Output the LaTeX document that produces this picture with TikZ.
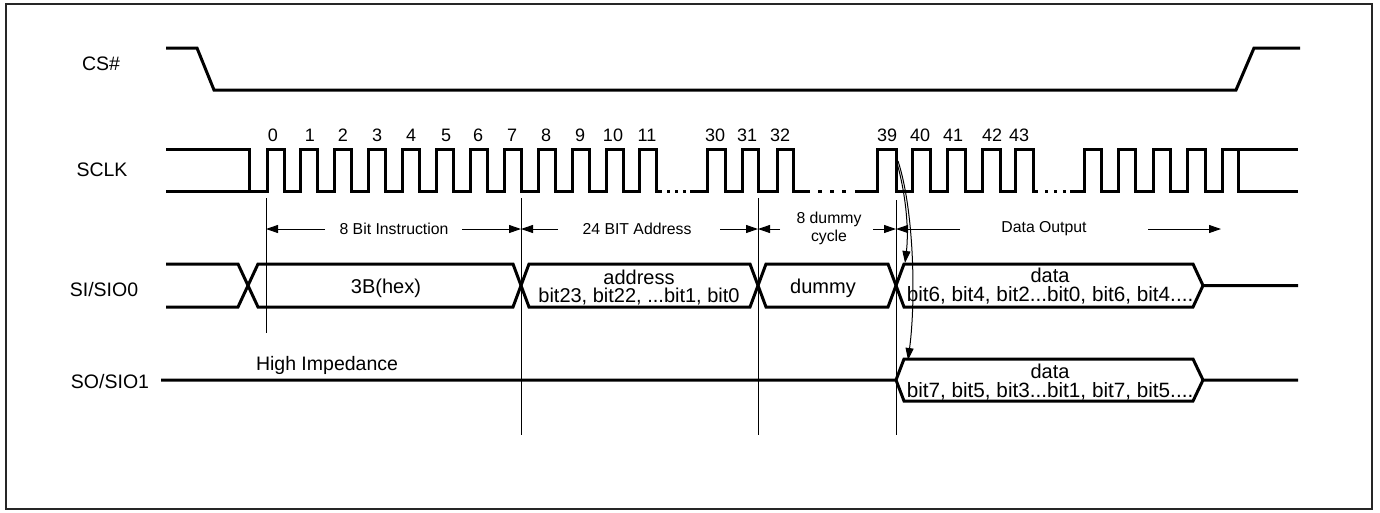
\documentclass[tikz,border=0pt]{standalone}
\usepackage{fontspec}
\setmainfont{Liberation Sans}
\usetikzlibrary{arrows.meta}
\begin{document}
\begin{tikzpicture}[x=1pt,y=-1pt,
  sig/.style={line width=3pt,line join=miter},
  marker/.style={line width=1pt},
  dimarrow/.style={line width=1pt,-{Triangle[length=12pt,width=8pt]}},
  curvarrow/.style={line width=1pt,-{Triangle[length=12pt,width=8pt]}},
  dotseg/.style={line width=3pt},
  big/.style={inner sep=0pt,font=\fontsize{19.5}{22}\selectfont},
  bus/.style={inner sep=0pt,font=\fontsize{20}{22}\selectfont},
  busw/.style={inner sep=0pt,font=\fontsize{20.7}{22}\selectfont},
  small/.style={inner sep=0pt,font=\fontsize{15.8}{18}\selectfont,align=center},
  num/.style={inner sep=0pt,font=\fontsize{18}{20}\selectfont},
]
\useasboundingbox (0,0) rectangle (1380,512);
\draw[line width=1.8pt,black!85] (6,4) rectangle (1372,509);

% signal names
\node[big] (ncs) at (101,64) {CS\#};
\node[big] (nsclk) at (102,170) {SCLK};
\node[big] (nsi) at (104,290) {SI/SIO0};
\node[big] (nso) at (110,382) {SO/SIO1};

% CS#
\draw[sig] (166,48) -- (197,48) -- (214,90) -- (1236,90) -- (1254,48) -- (1300,48);

% SCLK
\draw[sig] (166,149) -- (249,149) -- (249,191);
\draw[sig] (166,191) \foreach \k in {0,...,11} {
   -- ({267+33.9*\k},191) -- ({267+33.9*\k},149) -- ({284+33.9*\k},149) -- ({284+33.9*\k},191) } -- (662,191);
\foreach \x in {667,675,683} \draw[dotseg] (\x,191) -- (\x+3,191);
\draw[sig] (690,191) \foreach \r/\f in {707/725,742/758,777/793} {
   -- (\r,191) -- (\r,149) -- (\f,149) -- (\f,191) } -- (810,191);
\foreach \x in {818,830,842} \draw[dotseg] (\x,191) -- (\x+4,191);
\draw[sig] (855,191) \foreach \r/\f in {877/896,912/930,947/965,982/1000,1015/1033} {
   -- (\r,191) -- (\r,149) -- (\f,149) -- (\f,191) } -- (1038,191);
\foreach \x in {1045,1054,1063} \draw[dotseg] (\x,191) -- (\x+3,191);
\draw[sig] (1070,191) \foreach \r/\f in {1084/1101,1118/1135,1153/1170,1187/1205} {
   -- (\r,191) -- (\r,149) -- (\f,149) -- (\f,191) } -- (1222,191) -- (1222,149) -- (1298,149);
\draw[sig] (1238,149) -- (1238,191) -- (1298,191);

% clock numbers
\foreach \x/\t in {273/0,310/1,343/2,377/3,411/4,446/5,478/6,512/7,546/8,580/9,613/10,647/11,715/30,747/31,780/32,887/39,920/40,953/41,992/42,1019/43}
  \node[num] (c\t) at (\x,135) {\t};

% SI/SIO0 bus
\draw[sig] (166,264) -- (238,264) -- (258,307) -- (513,307) -- (529,264) -- (750,264) -- (766,307) -- (888,307) -- (904,264) -- (1193,264) -- (1203,285.5) -- (1298,285.5);
\draw[sig] (166,307) -- (238,307) -- (258,264) -- (513,264) -- (529,307) -- (750,307) -- (766,264) -- (888,264) -- (904,307) -- (1193,307) -- (1203,285.5);

% SO/SIO1
\draw[sig] (161,380) -- (896,380) -- (904,359) -- (1193,359) -- (1203,380) -- (1298,380);
\draw[sig] (896,380) -- (904,401) -- (1193,401) -- (1203,380);

% vertical markers
\coordinate (m0) at (266,229);
\coordinate (m1) at (521,229);
\coordinate (m2) at (758,229);
\coordinate (m3) at (896,229);
\draw[marker] (266,198) -- (266,333);
\draw[marker] (521,198) -- (521,435);
\draw[marker] (758,198) -- (758,435);
\draw[marker] (896,200) -- (896,435);

% dimension labels
\node[small] (tinst) at (394,229) {8 Bit Instruction};
\node[small] (taddr) at (637,229) {24 BIT Address};
\node[small] (tdum) at (829,228) {8 dummy\\cycle};
\node[small] (tdata) at (1044,229) {Data Output};

\coordinate (a1) at (325,229);
\coordinate (a2) at (462,229);
\coordinate (a3) at (558,229);
\coordinate (a4) at (720,229);
\coordinate (a5) at (780,229);
\coordinate (a6) at (873,229);
\coordinate (a7) at (960,229);
\coordinate (a8) at (1148,229);
\coordinate (a9) at (1221,229);
\draw[dimarrow] (a1) -- (m0);
\draw[dimarrow] (a2) -- (m1);
\draw[dimarrow] (a3) -- (m1);
\draw[dimarrow] (a4) -- (m2);
\draw[dimarrow] (a5) -- (m2);
\draw[dimarrow] (a6) -- (m3);
\draw[dimarrow] (a7) -- (m3);
\draw[dimarrow] (a8) -- (a9);

% curved arrows from clock 39
\coordinate (e39) at (897,163);
\coordinate (e39b) at (898,161);
\coordinate (siin) at (905,263);
\coordinate (soin) at (908,360);
\draw[curvarrow] (e39) .. controls (906,195) and (909,230) .. (siin);
\draw[curvarrow] (e39b) .. controls (914,210) and (916,300) .. (soin);

% bus texts
\node[bus] (thex) at (386,288) {3B(hex)};
\node[bus] (tad1) at (639,277) {address};
\node[bus] (tad2) at (639,297) {bit23, bit22, ...bit1, bit0};
\node[bus] (tdmy) at (823,288) {dummy};
\node[bus] (tsd1) at (1050,275) {data};
\node[busw] (tsd2) at (1050,295) {bit6, bit4, bit2...bit0, bit6, bit4....};
\node[bus] (tod1) at (1050,371) {data};
\node[busw] (tod2) at (1050,391) {bit7, bit5, bit3...bit1, bit7, bit5....};
\node[big] (thiz) at (327,365) {High Impedance};
\end{tikzpicture}
\end{document}
